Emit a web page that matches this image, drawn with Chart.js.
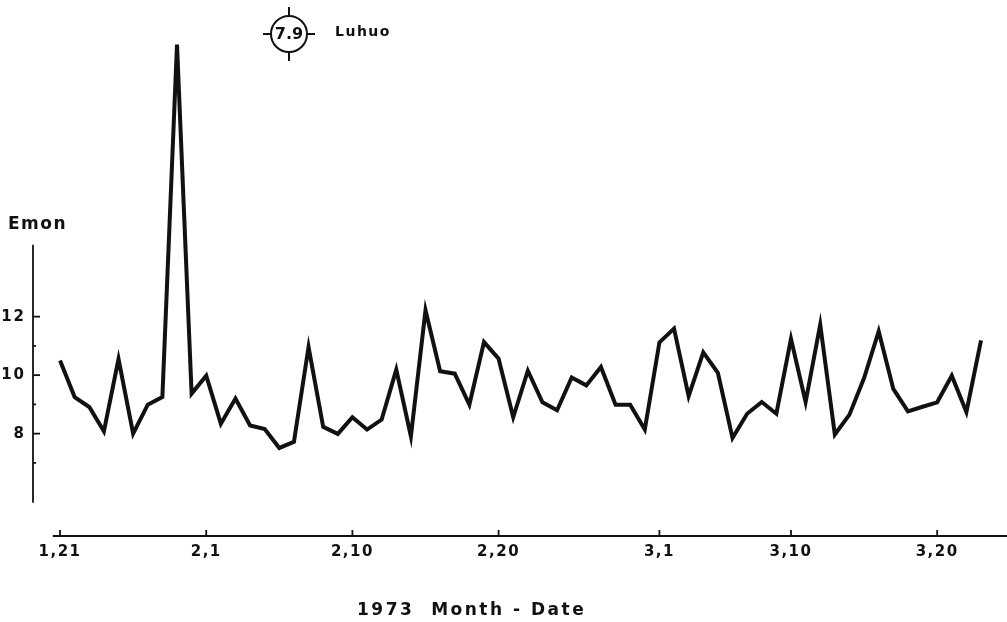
<!DOCTYPE html>
<html>
<head>
<meta charset="utf-8">
<script src="https://cdn.jsdelivr.net/npm/chart.js@4.4.0/dist/chart.umd.min.js"></script>
<style>
  body { margin: 0; background: #fff; }
  #wrap { width: 1007px; height: 622px; position: relative; }
</style>
</head>
<body>
<div id="wrap"><canvas id="emonChart"></canvas></div>
<script>
// daily Emon values, 1973 Jan 21 .. Mar 23
const emon = [
  10.50, 9.25, 8.91, 8.08, 10.55, 8.00, 8.99, 9.25, 21.30, 9.37,
  9.98, 8.34, 9.20, 8.28, 8.16, 7.51, 7.72, 10.96, 8.23, 7.99,
  8.56, 8.14, 8.48, 10.19, 7.91, 12.22, 10.13, 10.05, 8.99, 11.13,
  10.56, 8.56, 10.15, 9.07, 8.80, 9.92, 9.65, 10.28, 8.99, 8.99,
  8.14, 11.12, 11.59, 9.28, 10.78, 10.08, 7.85, 8.68, 9.08, 8.68,
  11.24, 9.08, 11.73, 7.97, 8.65, 9.90, 11.50, 9.53, 8.76, 8.92,
  9.07, 9.98, 8.74, 11.19
];

const dateTickLabels = ['1,21', '2,1', '2,10', '2,20', '3,1', '3,10', '3,20'];
const dateTickIndex = [0, 10, 20, 30, 41, 50, 60];

const yMajorTicks = [8, 10, 12];
const yMinorTicks = [7, 9, 11];

const quake = { magnitude: '7.9', place: 'Luhuo' };

const ink = '#111';

const points = emon.map((v, i) => ({ x: i, y: v }));

function text(ctx, str, x, y, font, align, spacing) {
  ctx.font = font;
  ctx.textAlign = align;
  ctx.textBaseline = 'middle';
  if ('letterSpacing' in ctx) ctx.letterSpacing = spacing + 'px';
  ctx.fillText(str, x, y);
  if ('letterSpacing' in ctx) ctx.letterSpacing = '0px';
}

const handAxes = {
  id: 'handAxes',
  afterDraw(chart) {
    const { ctx, chartArea } = chart;
    const x = chart.scales.x;
    const y = chart.scales.y;
    ctx.save();
    ctx.strokeStyle = ink;
    ctx.fillStyle = ink;
    ctx.lineCap = 'butt';

    // y axis
    const ax = chartArea.left;
    ctx.lineWidth = 1.8;
    ctx.beginPath();
    ctx.moveTo(ax, y.getPixelForValue(14.46));
    ctx.lineTo(ax, y.getPixelForValue(5.64));
    ctx.stroke();

    yMajorTicks.forEach(v => {
      const py = y.getPixelForValue(v);
      ctx.beginPath();
      ctx.moveTo(ax, py);
      ctx.lineTo(ax + 7, py);
      ctx.stroke();
      text(ctx, String(v), ax - 7, py, 'bold 15px "DejaVu Sans"', 'right', 2);
    });
    yMinorTicks.forEach(v => {
      const py = y.getPixelForValue(v);
      ctx.beginPath();
      ctx.moveTo(ax, py);
      ctx.lineTo(ax + 3, py);
      ctx.stroke();
    });
    text(ctx, 'Emon', 8, 225, 'bold 17px "DejaVu Sans"', 'left', 1.5);

    // x axis
    const by = chartArea.bottom;
    ctx.lineWidth = 1.8;
    ctx.beginPath();
    ctx.moveTo(x.getPixelForValue(-0.5), by);
    ctx.lineTo(chartArea.right + 2, by);
    ctx.stroke();

    dateTickIndex.forEach((d, i) => {
      const px = x.getPixelForValue(d);
      ctx.beginPath();
      ctx.moveTo(px, by);
      ctx.lineTo(px, by - 6);
      ctx.stroke();
      text(ctx, dateTickLabels[i], px, by + 16, 'bold 15px "DejaVu Sans"', 'center', 1.5);
    });
    text(ctx, '1973  Month - Date', 357, 611, 'bold 17px "DejaVu Sans"', 'left', 2.5);

    // epicentre marker
    const cx = 289, cy = 34, r = 18;
    ctx.lineWidth = 2;
    ctx.beginPath();
    ctx.arc(cx, cy, r, 0, Math.PI * 2);
    ctx.stroke();
    ctx.beginPath();
    ctx.moveTo(cx, cy - r); ctx.lineTo(cx, cy - r - 9);
    ctx.moveTo(cx, cy + r); ctx.lineTo(cx, cy + r + 9);
    ctx.moveTo(cx - r, cy); ctx.lineTo(cx - r - 8, cy);
    ctx.moveTo(cx + r, cy); ctx.lineTo(cx + r + 8, cy);
    ctx.stroke();
    text(ctx, quake.magnitude, cx, cy + 1, 'bold 16px "DejaVu Sans"', 'center', 0);
    text(ctx, quake.place, 335, 32, 'bold 14px "DejaVu Sans"', 'left', 1.5);

    ctx.restore();
  }
};

const ctx = document.getElementById('emonChart').getContext('2d');

const emonChart = new Chart(ctx, {
  type: 'line',
  data: {
    datasets: [{
      label: 'Emon',
      data: points,
      borderColor: ink,
      borderWidth: 4,
      pointRadius: 0,
      tension: 0,
      fill: false
    }]
  },
  options: {
    responsive: true,
    maintainAspectRatio: false,
    animation: false,
    layout: {
      padding: { left: 33, right: 2, top: 30, bottom: 86 }
    },
    plugins: {
      legend: { display: false },
      tooltip: { enabled: false }
    },
    scales: {
      x: {
        type: 'linear',
        min: -1.85,
        max: 64.64,
        display: false
      },
      y: {
        min: 4.5,
        max: 21.8,
        display: false
      }
    }
  },
  plugins: [handAxes]
});
</script>
</body>
</html>
